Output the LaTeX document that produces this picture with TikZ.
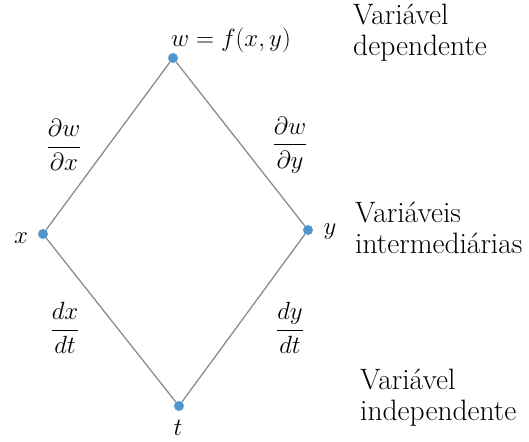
\documentclass[tikz,border=0pt]{standalone}
\usepackage{amsmath}
\begin{document}
\begin{tikzpicture}[x=1pt,y=-1pt,
  edge/.style={draw=black!45,line width=1.3pt},
  dot/.style={circle,fill={rgb,255:red,80;green,150;blue,205},inner sep=0pt,minimum size=10pt},
  lbl/.style={font=\fontsize{25}{29}\selectfont,inner sep=0pt},
  side/.style={font=\fontsize{29.5}{31}\selectfont,align=left,anchor=west,inner sep=0pt}]
\useasboundingbox (0,0) rectangle (529,441);
\node[dot] (w) at (173,58) {};
\node[dot] (x) at (43,234) {};
\node[dot] (y) at (308,230) {};
\node[dot] (t) at (179,406) {};
\draw[edge] (w) -- (x);
\draw[edge] (w) -- (y);
\draw[edge] (x) -- (t);
\draw[edge] (y) -- (t);
\node[lbl] (wl) at (231,40) {$w = f(x, y)$};
\node[lbl] (xl) at (21,238) {$x$};
\node[lbl] (yl) at (330,232) {$y$};
\node[lbl] (tl) at (178,428) {$t$};
\node[lbl] (dwdx) at (64,145) {$\dfrac{\partial w}{\partial x}$};
\node[lbl] (dwdy) at (290,145) {$\dfrac{\partial w}{\partial y}$};
\node[lbl] (dxdt) at (65,328) {$\dfrac{dx}{dt}$};
\node[lbl] (dydt) at (290,328) {$\dfrac{dy}{dt}$};
\node[side] (dep) at (353,33) {Variável\\dependente};
\node[side] (int) at (355,228) {Variáveis\\intermediárias};
\node[side] (ind) at (360,398) {Variável\\independente};
\end{tikzpicture}
\end{document}
